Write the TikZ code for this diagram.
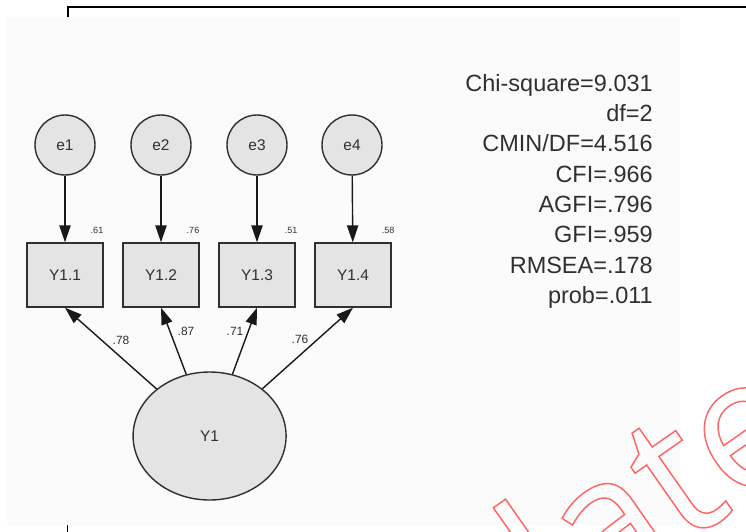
\documentclass[tikz,border=0pt]{standalone}
\usepackage{fontspec}
\setmainfont{Liberation Sans}
\newfontfamily\wmfont{Open Sans}
\usetikzlibrary{arrows.meta, calc, shapes.geometric}

\definecolor{panel}{HTML}{FBFBFB}
\definecolor{nodefill}{HTML}{E4E4E4}
\definecolor{ink}{HTML}{303030}
\newcommand\outlined[1]{\special{pdf:literal direct 1 Tr 1.05 w}#1\special{pdf:literal direct 0 Tr}}

\begin{document}
\begin{tikzpicture}[
  font=\fontsize{11}{13}\selectfont,
  semnode/.style={draw=ink, line width=1pt, fill=nodefill, text=ink, inner sep=0pt},
  errc/.style={semnode, circle, minimum size=1.5cm},
  obsbox/.style={semnode, rectangle, minimum width=1.9cm, minimum height=1.6cm},
  latent/.style={semnode, ellipse, minimum width=3.825cm, minimum height=3.2cm},
  arr/.style={-{Triangle[length=12pt, width=8pt]}, line width=1pt, draw=black!90},
  rsq/.style={font=\fontsize{6.4}{7}\selectfont, text=ink},
  wlab/.style={font=\fontsize{8.5}{10}\selectfont, text=ink},
  fitlab/.style={font=\fontsize{16.7}{21.55}\selectfont, align=right, text=ink, inner sep=0pt},
  wm/.style={font=\wmfont\fontsize{131}{131}\selectfont, rotate=35, anchor=base west, inner sep=0pt, text=red!60},
]
\useasboundingbox (0,0) rectangle (18.65,-13.275);

% ---------------------------------------------------------------
% frame and grey panel
% ---------------------------------------------------------------
\draw[line width=1.5pt] (1.69,-0.45) -- (1.69,-0.175) -- (18.7,-0.175);
\draw[line width=1.2pt] (1.69,-13.1) -- (1.69,-13.4);
\fill[panel] (0.175,-0.425) rectangle (17,-13.125);

% ---------------------------------------------------------------
% measurement model
% ---------------------------------------------------------------
\node[errc] (e1) at (1.625,-3.625) {e1};
\node[errc] (e2) at (4.025,-3.625) {e2};
\node[errc] (e3) at (6.425,-3.625) {e3};
\node[errc] (e4) at (8.8,-3.625) {e4};

\node[obsbox] (y1) at (1.625,-6.875) {Y1.1};
\node[obsbox] (y2) at (4.025,-6.875) {Y1.2};
\node[obsbox] (y3) at (6.425,-6.875) {Y1.3};
\node[obsbox] (y4) at (8.825,-6.875) {Y1.4};

\node[latent] (lat) at (5.24,-10.9) {Y1};

\foreach \i in {1,...,4} {
  \draw[arr] (e\i) -- (y\i);
  \draw[arr] (lat) -- (y\i.south);
}

% squared multiple correlations
\node[rsq] (r1) at (2.425,-5.75) {.61};
\node[rsq] (r2) at (4.825,-5.75) {.76};
\node[rsq] (r3) at (7.275,-5.75) {.51};
\node[rsq] (r4) at (9.7,-5.75) {.58};

% standardized loadings
\node[wlab] (w1) at (3.025,-8.5) {.78};
\node[wlab] (w2) at (4.65,-8.275) {.87};
\node[wlab] (w3) at (5.875,-8.275) {.71};
\node[wlab] (w4) at (7.5,-8.475) {.76};

% fit indices
\node[fitlab, anchor=north east] (fit) at (16.325,-1.85) {Chi-square=9.031\\df=2\\CMIN/DF=4.516\\CFI=.966\\AGFI=.796\\GFI=.959\\RMSEA=.178\\prob=.011};

% ---------------------------------------------------------------
% outlined watermark
% ---------------------------------------------------------------
\begin{scope}
  \clip (0,0) rectangle (18.65,-13.275);
  \node[wm] (wmk) at (14.01,-15.79) {\outlined{late}};
\end{scope}

\end{tikzpicture}
\end{document}
